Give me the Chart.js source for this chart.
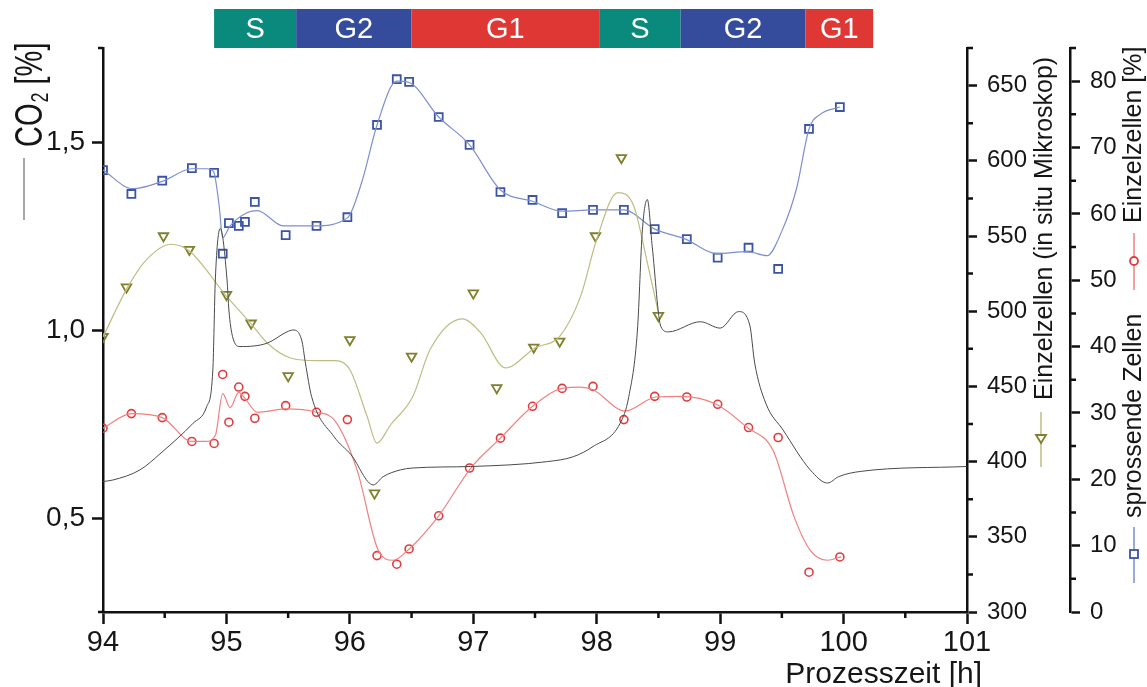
<!DOCTYPE html>
<html>
<head>
<meta charset="utf-8">
<script src="https://cdn.jsdelivr.net/npm/chart.js@4/dist/chart.umd.min.js"></script>
<style>
  body { margin: 0; background: #fff; }
  #wrap { width: 1147px; height: 687px; }
</style>
</head>
<body>
<div id="wrap"><canvas id="myChart" width="1147" height="687"></canvas></div>
<script>
// Sampling times of the microscope samples [h]
const cellHours = [94.0, 94.23, 94.48, 94.72, 94.9, 94.97, 95.02, 95.1, 95.15, 95.23, 95.48, 95.73, 95.98, 96.22, 96.38, 96.48, 96.72, 96.97, 97.22, 97.48, 97.72, 97.97, 98.22, 98.47, 98.73, 98.98, 99.23, 99.47, 99.72, 99.97];
// sprossende Zellen [%]
const sprossendePct = [66.6, 63.0, 65.0, 66.9, 66.2, 54.0, 58.6, 58.2, 58.8, 61.8, 56.8, 58.2, 59.5, 73.4, 80.3, 79.9, 74.6, 70.4, 63.3, 62.1, 60.1, 60.6, 60.6, 57.7, 56.2, 53.4, 54.9, 51.7, 72.8, 76.1];
// Einzelzellen [%]
const einzelPct = [27.7, 29.9, 29.3, 25.7, 25.4, 35.8, 28.6, 33.9, 32.5, 29.2, 31.1, 30.1, 29.0, 8.5, 7.2, 9.5, 14.5, 21.7, 26.2, 31.0, 33.7, 34.0, 29.0, 32.5, 32.4, 31.3, 27.8, 26.3, 6.0, 8.3];

// Einzelzellen (in situ Mikroskop)
const mikroHours = [94.0, 94.19, 94.49, 94.7, 95.0, 95.2, 95.5, 96.0, 96.2, 96.5, 97.0, 97.19, 97.49, 97.7, 97.99, 98.2, 98.5];
const mikroCount = [483, 516, 550, 541, 511, 492, 457, 481, 379, 470, 512, 449, 476, 480, 550, 602, 497];

// smoothed curves
const sprossendeFitX = [94.0, 94.24, 94.48, 94.72, 94.84, 94.895, 94.94, 94.97, 95.03, 95.17, 95.25, 95.46, 95.71, 95.98, 96.1, 96.22, 96.38, 96.48, 96.72, 96.97, 97.22, 97.48, 97.72, 97.97, 98.22, 98.47, 98.72, 98.97, 99.22, 99.38, 99.5, 99.62, 99.72, 99.81, 99.97];
const sprossendeFitY = [66.6, 63.8, 64.9, 66.8, 66.8, 66.4, 61.4, 56.4, 58.2, 60.2, 60.5, 58.2, 58.2, 59.4, 65.0, 73.4, 80.0, 79.8, 74.6, 70.4, 63.6, 61.9, 60.4, 60.6, 60.6, 57.7, 56.2, 54.0, 54.3, 53.7, 57.4, 63.9, 72.8, 75.0, 76.1];

const einzelFitX = [94.0, 94.23, 94.48, 94.72, 94.83, 94.91, 94.97, 95.03, 95.1, 95.15, 95.25, 95.48, 95.73, 95.88, 96.06, 96.23, 96.35, 96.48, 96.72, 96.98, 97.22, 97.48, 97.72, 97.87, 97.97, 98.23, 98.48, 98.68, 98.97, 99.22, 99.43, 99.6, 99.73, 99.87, 99.98];
const einzelFitY = [27.7, 29.9, 29.3, 25.7, 25.7, 26.6, 32.9, 30.8, 33.1, 32.2, 30.1, 30.6, 30.1, 28.8, 21.3, 9.3, 7.8, 9.5, 14.5, 21.7, 26.2, 31.0, 33.7, 33.9, 33.5, 30.3, 32.4, 32.5, 31.3, 27.8, 24.3, 14.3, 9.3, 7.8, 8.3];

const mikroFitX = [94.0, 94.19, 94.34, 94.55, 94.7, 95.0, 95.2, 95.33, 95.52, 95.73, 95.87, 96.0, 96.14, 96.22, 96.33, 96.51, 96.65, 96.91, 97.06, 97.26, 97.5, 97.7, 97.87, 98.0, 98.17, 98.3, 98.41, 98.5];
const mikroFitY = [482.9, 514.5, 533.1, 544.5, 540.0, 510.0, 491.6, 478.9, 468.9, 467.1, 467.1, 461.1, 430.0, 412.3, 424.5, 443.3, 474.5, 494.9, 485.6, 462.3, 475.6, 483.3, 510.0, 547.8, 578.9, 570.0, 532.3, 498.9];

// CO2 [%]
const co2Hours = [94.0, 94.08, 94.3, 94.47, 94.73, 94.84, 94.89, 94.91, 94.95, 95.005, 95.02, 95.05, 95.11, 95.33, 95.49, 95.54, 95.61, 95.64, 95.69, 95.87, 96.01, 96.19, 96.27, 96.41, 96.51, 96.98, 97.6, 97.81, 97.97, 98.19, 98.26, 98.33, 98.37, 98.41, 98.45, 98.52, 98.58, 98.84, 99.0, 99.15, 99.24, 99.28, 99.37, 99.51, 99.73, 99.87, 99.96, 100.14, 101.0];
const co2Values = [0.597, 0.601, 0.628, 0.673, 0.752, 0.796, 0.894, 1.133, 1.270, 1.133, 1.053, 0.982, 0.956, 0.965, 0.995, 1.000, 0.973, 0.912, 0.823, 0.717, 0.668, 0.588, 0.610, 0.628, 0.633, 0.637, 0.650, 0.663, 0.690, 0.752, 0.823, 1.000, 1.266, 1.347, 1.221, 1.009, 0.995, 1.022, 1.005, 1.049, 1.013, 0.912, 0.805, 0.734, 0.628, 0.593, 0.610, 0.624, 0.637];

// cell cycle phases
const phaseLabels = ['S', 'G2', 'G1', 'S', 'G2', 'G1'];
const phaseStart = [94.9, 95.565, 96.5, 98.02, 98.68, 99.69];
const phaseEnd = [95.565, 96.5, 98.02, 98.68, 99.69, 100.24];
const phaseColors = { S: '#0a8a7d', G2: '#344c9b', G1: '#df3834' };

// ticks
const xTicks = [94, 95, 96, 97, 98, 99, 100, 101];
const xMinor = [94.5, 95.5, 96.5, 97.5, 98.5, 99.5, 100.5];
const co2Ticks = [0.5, 1.0, 1.5];
const co2TickLabels = ['0,5', '1,0', '1,5'];
const mikroTicks = [300, 350, 400, 450, 500, 550, 600, 650];
const mikroMinor = [325, 375, 425, 475, 525, 575, 625, 675];
const pctTicks = [0, 10, 20, 30, 40, 50, 60, 70, 80];
const pctMinor = [5, 15, 25, 35, 45, 55, 65, 75, 85];

const FONT = '"Liberation Sans", Arial, sans-serif';
Chart.defaults.font.family = FONT;
Chart.defaults.color = '#161616';

function pts(xs, ys) {
  return xs.map((x, i) => ({ x: x, y: ys[i] }));
}

const BLUE = '#3b54a5', BLUE_L = '#7d8fd0';
const RED = '#e23b3f', RED_L = '#f28080';
const OLIVE = '#7f7f2c', OLIVE_L = '#bdbd84';
const GREY = '#4a4a4a';

// phase bar, minor ticks and axis titles
const decor = {
  id: 'decor',
  afterDraw(chart) {
    const ctx = chart.ctx;
    const x = chart.scales.x, yl = chart.scales.y, ym = chart.scales.yMikro, yr = chart.scales.yPct;
    ctx.save();

    // phases
    phaseLabels.forEach(function(lab, i) {
      const x0 = x.getPixelForValue(phaseStart[i]);
      const x1 = x.getPixelForValue(phaseEnd[i]);
      ctx.fillStyle = phaseColors[lab];
      ctx.fillRect(x0, 9, x1 - x0, 39);
      ctx.fillStyle = '#fff';
      ctx.font = '29px ' + FONT;
      ctx.textAlign = 'center';
      ctx.textBaseline = 'middle';
      ctx.fillText(lab, (x0 + x1) / 2, 30);
    });

    // minor ticks and caps
    ctx.strokeStyle = '#111';
    ctx.lineWidth = 2.5;
    ctx.beginPath();
    xMinor.forEach(function(h) {
      const p = x.getPixelForValue(h);
      ctx.moveTo(p, x.top); ctx.lineTo(p, x.top + 6);
    });
    mikroMinor.forEach(function(v) {
      const p = ym.getPixelForValue(v);
      ctx.moveTo(ym.left, p); ctx.lineTo(ym.left + 6, p);
    });
    pctMinor.forEach(function(v) {
      const p = yr.getPixelForValue(v);
      ctx.moveTo(yr.left, p); ctx.lineTo(yr.left + 6, p);
    });
    ctx.moveTo(yl.right - 5, yl.top); ctx.lineTo(yl.right, yl.top);
    ctx.moveTo(yl.right - 5, x.top); ctx.lineTo(yl.right, x.top);
    ctx.stroke();

    // vertical titles (reading upwards)
    function vText(text, cx, yStart, size) {
      ctx.save();
      ctx.translate(cx, yStart);
      ctx.rotate(-Math.PI / 2);
      ctx.font = size + 'px ' + FONT;
      ctx.fillStyle = '#161616';
      ctx.textAlign = 'left';
      ctx.textBaseline = 'middle';
      ctx.fillText(text, 0, 0);
      ctx.restore();
    }

    // CO2 [%]
    ctx.save();
    ctx.translate(41.5, 147);
    ctx.rotate(-Math.PI / 2);
    ctx.scale(1, 1.35);
    ctx.fillStyle = '#161616';
    ctx.textBaseline = 'alphabetic';
    ctx.textAlign = 'left';
    ctx.font = '29px ' + FONT;
    ctx.fillText('CO', 0, 0);
    let w = ctx.measureText('CO').width;
    ctx.font = '18px ' + FONT;
    ctx.fillText('2', w + 1, 5);
    w += ctx.measureText('2').width + 1;
    ctx.font = '29px ' + FONT;
    ctx.fillText(' [%]', w, 0);
    ctx.restore();

    vText('Einzelzellen (in situ Mikroskop)', 1045, 400, 25);
    vText('Einzelzellen [%]', 1134, 223, 25);
    vText('sprossende Zellen', 1134, 518, 25);

    // legend samples next to the titles
    ctx.lineWidth = 1.5;
    function vLine(color, cx, y0, y1) {
      ctx.strokeStyle = color;
      ctx.beginPath(); ctx.moveTo(cx, y0); ctx.lineTo(cx, y1); ctx.stroke();
    }
    vLine('#8a8a8a', 24, 158, 220);
    vLine(OLIVE_L, 1041, 412, 467);
    vLine(RED_L, 1134, 233, 290);
    vLine(BLUE_L, 1134, 527, 583);
    ctx.lineWidth = 1.8;
    ctx.fillStyle = '#fff';
    // triangle (pointing down)
    ctx.strokeStyle = OLIVE;
    ctx.beginPath();
    ctx.moveTo(1041 - 5, 435); ctx.lineTo(1041 + 5, 435); ctx.lineTo(1041, 443); ctx.closePath();
    ctx.fill(); ctx.stroke();
    ctx.strokeStyle = RED;
    ctx.beginPath(); ctx.arc(1134, 261, 4, 0, Math.PI * 2); ctx.fill(); ctx.stroke();
    ctx.strokeStyle = BLUE;
    ctx.fillRect(1130, 550, 8, 8); ctx.strokeRect(1130, 550, 8, 8);

    // x title
    ctx.font = '30px ' + FONT;
    ctx.fillStyle = '#161616';
    ctx.textAlign = 'right';
    ctx.textBaseline = 'alphabetic';
    ctx.fillText('Prozesszeit [h]', 982, 683);

    ctx.restore();
  }
};

const lineBase = {
  showLine: true,
  pointRadius: 0,
  borderWidth: 1.2,
  cubicInterpolationMode: 'monotone',
  fill: false
};

const ctx = document.getElementById('myChart').getContext('2d');

const chart = new Chart(ctx, {
  type: 'scatter',
  data: {
    datasets: [
      Object.assign({ label: 'CO2', data: pts(co2Hours, co2Values), yAxisID: 'y', borderColor: GREY, borderWidth: 1 }, lineBase, { borderWidth: 1 }),
      Object.assign({ label: 'Mikroskop Kurve', data: pts(mikroFitX, mikroFitY), yAxisID: 'yMikro', borderColor: OLIVE_L }, lineBase),
      Object.assign({ label: 'Einzelzellen Kurve', data: pts(einzelFitX, einzelFitY), yAxisID: 'yPct', borderColor: RED_L }, lineBase),
      Object.assign({ label: 'sprossende Kurve', data: pts(sprossendeFitX, sprossendeFitY), yAxisID: 'yPct', borderColor: BLUE_L }, lineBase),
      {
        label: 'Einzelzellen (in situ Mikroskop)',
        data: pts(mikroHours, mikroCount),
        yAxisID: 'yMikro',
        pointStyle: 'triangle',
        rotation: 180,
        pointRadius: 5.5,
        borderWidth: 1.8,
        borderColor: OLIVE,
        backgroundColor: 'rgba(255,255,255,0)'
      },
      {
        label: 'Einzelzellen [%]',
        data: pts(cellHours, einzelPct),
        yAxisID: 'yPct',
        pointStyle: 'circle',
        pointRadius: 4,
        borderWidth: 1.6,
        borderColor: RED,
        backgroundColor: 'rgba(255,255,255,0)'
      },
      {
        label: 'sprossende Zellen',
        data: pts(cellHours, sprossendePct),
        yAxisID: 'yPct',
        pointStyle: 'rect',
        pointRadius: 5.6,
        borderWidth: 1.8,
        borderColor: BLUE,
        backgroundColor: 'rgba(255,255,255,0)'
      }
    ]
  },
  options: {
    responsive: false,
    animation: false,
    events: [],
    layout: { padding: { top: 48, left: 0, right: 0, bottom: 0 } },
    plugins: {
      legend: { display: false },
      tooltip: { enabled: false }
    },
    scales: {
      x: {
        type: 'linear',
        position: 'bottom',
        min: 94,
        max: 101,
        afterBuildTicks: function(s) { s.ticks = xTicks.map(v => ({ value: v })); },
        afterFit: function(s) { s.height = 75; },
        ticks: { font: { size: 29 }, padding: 2, color: '#161616', maxRotation: 0, callback: v => String(v) },
        grid: { drawOnChartArea: false, tickLength: 12, tickWidth: 2.5, tickColor: '#111' },
        border: { color: '#111', width: 2.5 }
      },
      y: {
        type: 'linear',
        position: 'left',
        min: 0.25,
        max: 1.75,
        afterBuildTicks: function(s) { s.ticks = co2Ticks.map(v => ({ value: v })); },
        afterFit: function(s) { s.width = 103; },
        ticks: { font: { size: 28 }, padding: 7, color: '#161616', callback: function(v) { return co2TickLabels[co2Ticks.indexOf(v)]; } },
        grid: { drawOnChartArea: false, tickLength: 11, tickWidth: 2.5, tickColor: '#111' },
        border: { color: '#111', width: 2.5 }
      },
      yMikro: {
        type: 'linear',
        position: 'right',
        min: 300,
        max: 675,
        afterBuildTicks: function(s) { s.ticks = mikroTicks.map(v => ({ value: v })); },
        afterFit: function(s) { s.width = 103; },
        ticks: { font: { size: 24 }, padding: 10, color: '#161616' },
        grid: { drawOnChartArea: false, tickLength: 10, tickWidth: 2.5, tickColor: '#111' },
        border: { color: '#111', width: 2.5 }
      },
      yPct: {
        type: 'linear',
        position: 'right',
        min: 0,
        max: 85,
        afterBuildTicks: function(s) { s.ticks = pctTicks.map(v => ({ value: v })); },
        afterFit: function(s) { s.width = 77; },
        ticks: { font: { size: 24 }, padding: 10, color: '#161616' },
        grid: { drawOnChartArea: false, tickLength: 10, tickWidth: 2.5, tickColor: '#111' },
        border: { color: '#111', width: 2.5 }
      }
    }
  },
  plugins: [decor]
});
</script>
</body>
</html>
